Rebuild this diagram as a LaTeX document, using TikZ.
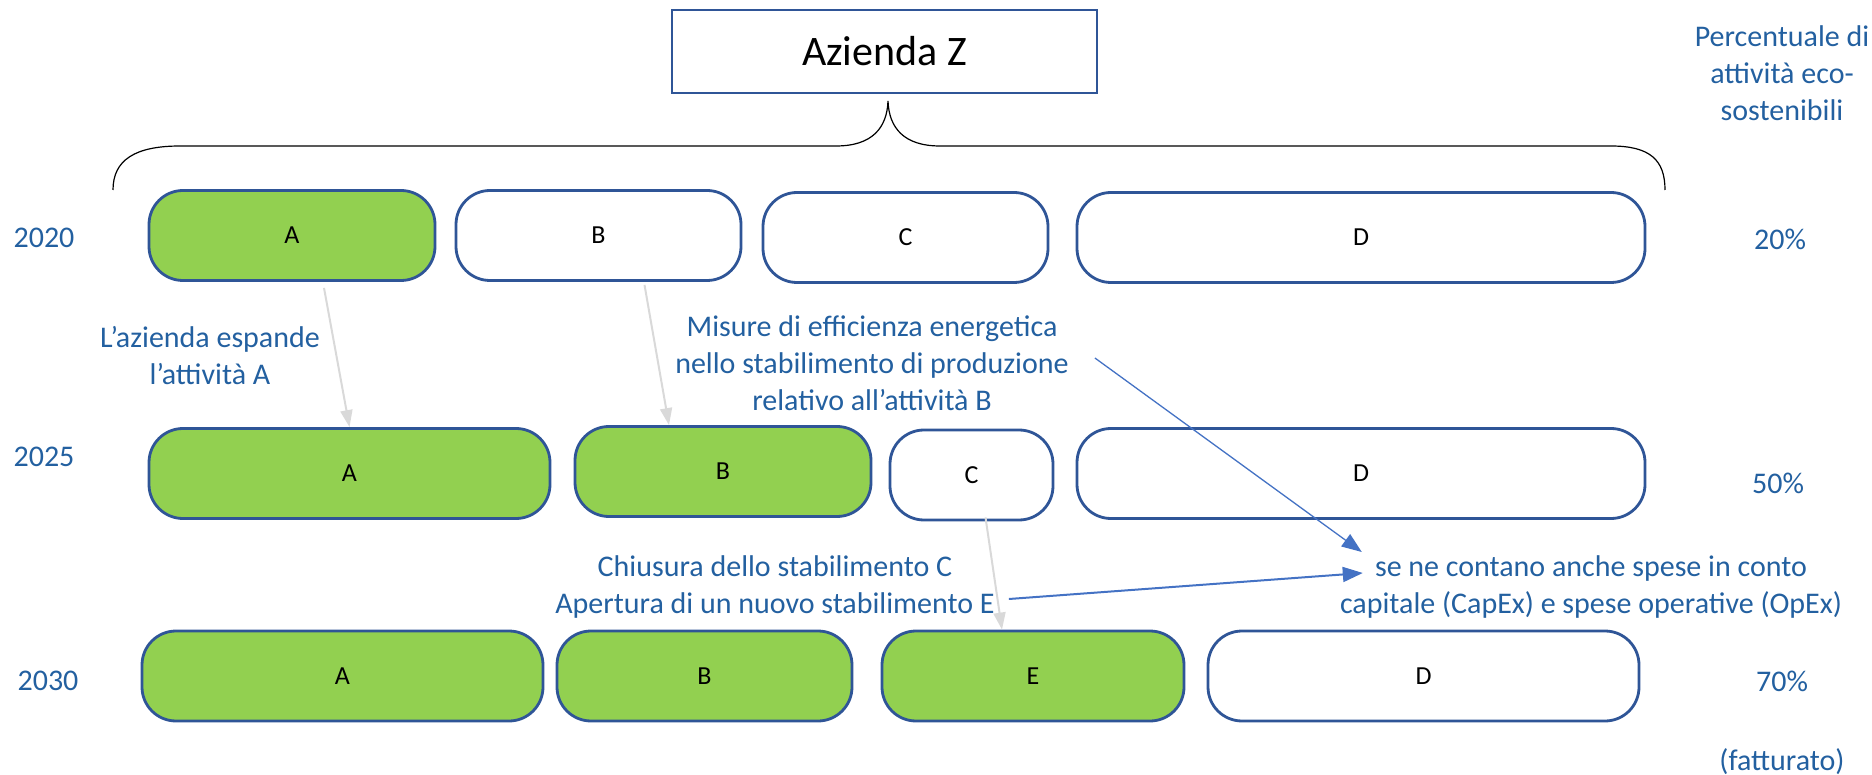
\documentclass[tikz,border=0pt]{standalone}
\usepackage{fontspec}
\setmainfont{Carlito}
\usetikzlibrary{positioning, arrows.meta, calc}
\definecolor{bordo}{HTML}{2F5597}
\definecolor{verde}{HTML}{92D050}
\definecolor{testo}{HTML}{2360A0}
\definecolor{freccia}{HTML}{4472C4}
\definecolor{grigio}{HTML}{D9D9D9}

\begin{document}
\begin{tikzpicture}[
    x=1pt, y=-1pt,
    unit/.style={draw=bordo, line width=2.8pt, rounded corners=34pt, fill=white,
                 minimum height=90pt, inner sep=0pt, font=\fontsize{26}{30}\selectfont},
    eco/.style={unit, fill=verde},
    note/.style={text=testo, align=center, inner sep=0pt, font=\fontsize{30}{37}\selectfont},
    year/.style={text=testo, inner sep=0pt, font=\fontsize{30}{35}\selectfont},
    move/.style={grigio, line width=2pt, -{Triangle[length=17pt, width=12pt]}},
    link/.style={freccia, line width=1.3pt, -{Triangle[length=20pt, width=15pt]}}
  ]
  \useasboundingbox (0,0) rectangle (1872,775);

  \node[draw=bordo, line width=2.8pt, fill=white, minimum width=425pt, minimum height=83pt,
        font=\fontsize{42}{48}\selectfont] (azienda) at (884.5,51.5) {Azienda Z};

  % graffa
  \draw[line width=1.2pt] (113,190) .. controls (113,160) and (135,146) .. (180,146)
    -- (836,146) .. controls (872,146) and (887,128) .. (888,101)
    .. controls (889,128) and (904,146) .. (940,146)
    -- (1611,146) .. controls (1650,146) and (1665,160) .. (1665,190);

  \node[note] (titolo) at (1782,73) {Percentuale di\\attività eco-\\sostenibili};

  % 2020
  \node[year] (y20) at (44,238) {2020};
  \node[eco,  minimum width=286pt] (boxA20) at (292,235.5) {A};
  \node[unit, minimum width=285pt] (boxB20) at (598.5,235.5) {B};
  \node[unit, minimum width=285pt] (boxC20) at (905.5,237.5) {C};
  \node[unit, minimum width=568pt] (boxD20) at (1361,237.5) {D};
  \node[year] (p20) at (1780,239) {20\%};

  % 2025
  \node[year] (y25) at (44,457) {2025};
  \node[eco,  minimum width=401pt] (boxA25) at (349.5,473.5) {A};
  \node[eco,  minimum width=296pt] (boxB25) at (723,471.5) {B};
  \node[unit, minimum width=163pt] (boxC25) at (971.5,475) {C};
  \node[unit, minimum width=568pt] (boxD25) at (1361,473.5) {D};
  \node[year] (p25) at (1778,483) {50\%};

  % 2030
  \node[year] (y30) at (48,681) {2030};
  \node[eco,  minimum width=401pt] (boxA30) at (342.5,676) {A};
  \node[eco,  minimum width=295pt] (boxB30) at (704.5,676) {B};
  \node[eco,  minimum width=302pt] (boxE30) at (1033,676) {E};
  \node[unit, minimum width=431pt] (boxD30) at (1423.5,676) {D};
  \node[year] (p30) at (1782,681) {70\%};
  \node[year] (fatt) at (1782,762) {(fatturato)};

  \node[note] (noteA) at (210,356) {L’azienda espande\\l’attività A};
  \node[note] (noteB) at (872,363) {Misure di efficienza energetica\\nello stabilimento di produzione\\relativo all’attività B};
  \node[note] (noteCE) at (775,587) {Chiusura dello stabilimento C\\Apertura di un nuovo stabilimento E};
  \node[note] (noteCapex) at (1591,587) {se ne contano anche spese in conto\\capitale (CapEx) e spese operative (OpEx)};

  \draw[move] ([xshift=32pt,yshift=-6pt]boxA20.south) -- (boxA25.north);
  \draw[move] ([xshift=46pt,yshift=-3pt]boxB20.south) -- ([xshift=-54pt]boxB25.north);
  \draw[move] ([xshift=14pt,yshift=4pt]boxC25.south) -- ([xshift=-31pt]boxE30.north);

  \draw[link] ($(noteB.east)+(26,-5)$) -- ($(noteCapex.west)+(22,-35)$);
  \draw[link, line width=2pt] ($(noteCE.east)+(14,12)$) -- ($(noteCapex.west)+(23,-14)$);
\end{tikzpicture}
\end{document}
